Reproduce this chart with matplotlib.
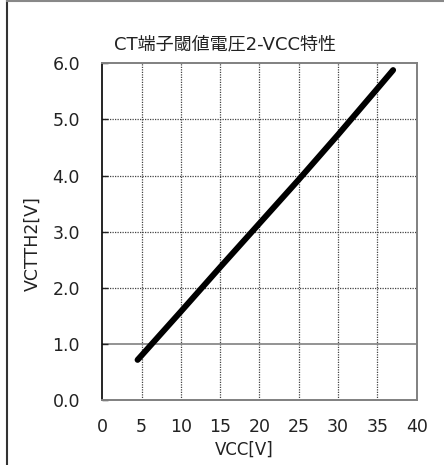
import matplotlib
matplotlib.use("Agg")
import matplotlib.pyplot as plt
from matplotlib.lines import Line2D

plt.rcParams["font.family"] = ["DejaVu Sans", "Noto Sans CJK JP"]

# data
vcc = [4.5, 10, 15, 20, 25, 30, 35, 37]
vctth2 = [0.72, 1.58, 2.37, 3.15, 3.93, 4.73, 5.55, 5.88]

x_ticks = [0, 5, 10, 15, 20, 25, 30, 35, 40]
y_ticks = [0.0, 1.0, 2.0, 3.0, 4.0, 5.0, 6.0]
title = "CT端子閾値電圧2-VCC特性"

fig = plt.figure(figsize=(4.44, 4.65), dpi=100)
ax = fig.add_axes([0.2302, 0.1391, 0.7083, 0.7247])

# grid
for xv in x_ticks[1:-1]:
    ax.axvline(xv, color="#444444", lw=0.9, ls=(0, (1, 1)), zorder=1)
for yv in y_ticks[1:-1]:
    if yv == 1.0:
        ax.axhline(yv, color="#808080", lw=1.2, zorder=1)
    else:
        ax.axhline(yv, color="#444444", lw=0.9, ls=(0, (1, 1)), zorder=1)

ax.plot(vcc, vctth2, color="black", lw=4.3, solid_capstyle="round", zorder=3)

ax.set_xlim(0, 40)
ax.set_ylim(0, 6)
ax.set_xticks(x_ticks)
ax.set_yticks(y_ticks)
ax.set_yticklabels(["%.1f" % v for v in y_ticks])
ax.tick_params(axis="x", length=0, pad=13, labelsize=12.5, colors="#222222")
ax.tick_params(axis="y", direction="in", length=4, width=1, pad=16,
               labelsize=12.5, colors="#222222")

ax.spines["left"].set_color("black")
ax.spines["left"].set_linewidth(1.2)
for s in ["bottom", "top", "right"]:
    ax.spines[s].set_color("#808080")
    ax.spines[s].set_linewidth(1.4)

fig.text(225 / 444, 1 - 44 / 465, title, ha="center", va="center", fontsize=13,
         color="#222222")
fig.text(33 / 444, 1 - 244 / 465, "VCTTH2[V]", rotation=90, ha="center",
         va="center", fontsize=12.5, color="#222222")
fig.text(244 / 444, 1 - 450 / 465, "VCC[V]", ha="center", va="center",
         fontsize=12, color="#222222")

# outer frame pieces
fig.add_artist(Line2D([6.5 / 444, 6.5 / 444], [0, 1 - 1.5 / 465], color="#333333", lw=1.5))
fig.add_artist(Line2D([6.5 / 444, 1], [1 - 1.5 / 465, 1 - 1.5 / 465], color="#888888", lw=1.5))

fig.savefig("out.png", dpi=100)
